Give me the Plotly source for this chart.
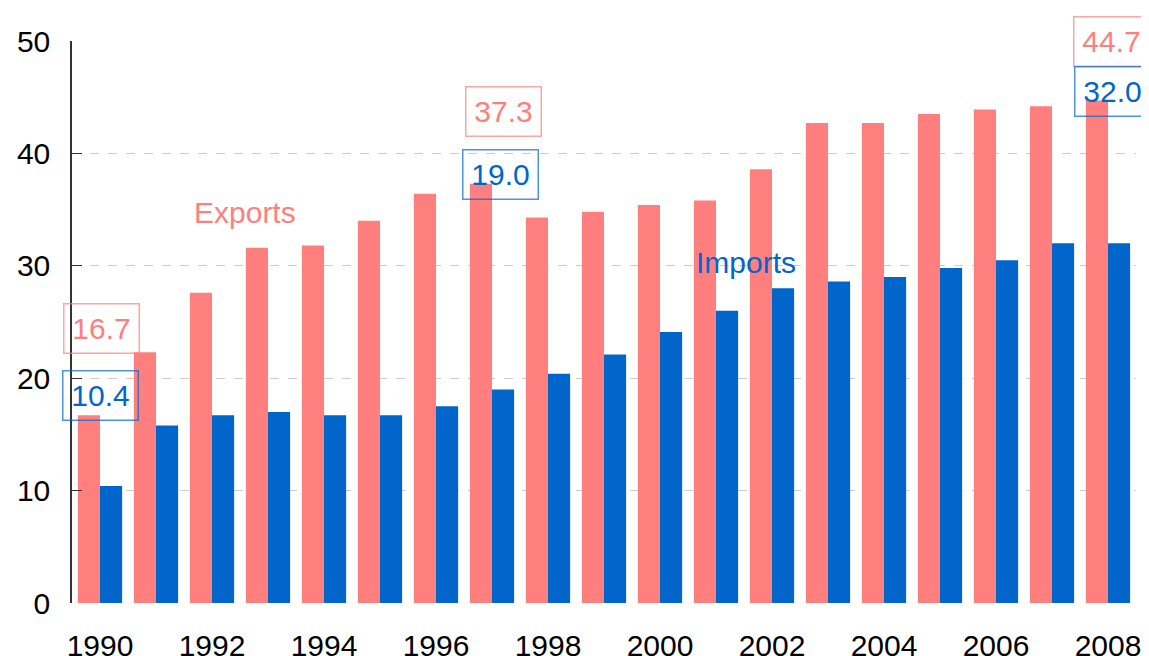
import plotly.graph_objects as go

years = list(range(1990, 2009))
exports = [16.7, 22.3, 27.6, 31.6, 31.8, 34.0, 36.4, 37.3, 34.3, 34.8, 35.4, 35.8,
           38.6, 42.7, 42.7, 43.5, 43.9, 44.2, 44.7]
imports = [10.4, 15.8, 16.7, 17.0, 16.7, 16.7, 17.5, 19.0, 20.4, 22.1, 24.1, 26.0,
           28.0, 28.6, 29.0, 29.8, 30.5, 32.0, 32.0]
tick_years = [1990, 1992, 1994, 1996, 1998, 2000, 2002, 2004, 2006, 2008]
y_ticks = [0, 10, 20, 30, 40, 50]

PINK = "#FF7F7F"
BLUE = "#0066CC"
FONT = "Liberation Sans, Arial, sans-serif"

fig = go.Figure()
fig.add_trace(go.Bar(x=years, y=exports, name="Exports", marker_color=PINK,
                     marker_line_width=0))
fig.add_trace(go.Bar(x=years, y=imports, name="Imports", marker_color=BLUE,
                     marker_line_width=0))

annotations = []
# boxed value labels: (year index, series, x offset, y position)
boxed = [
    (0, "e", 0.03, 24.4),
    (0, "i", 0.0, 18.5),
    (7, "e", 0.21, 43.7),
    (7, "i", 0.16, 38.1),
    (18, "e", 0.07, 50.0),
    (18, "i", 0.08, 45.5),
]
for idx, s, dx, ypos in boxed:
    val = exports[idx] if s == "e" else imports[idx]
    col = PINK if s == "e" else BLUE
    border = "rgba(255,127,127,0.7)" if s == "e" else "rgba(0,102,204,0.7)"
    annotations.append(dict(
        x=years[idx] + dx, y=ypos, xref="x", yref="y",
        text=f"{val:.1f}", showarrow=False,
        font=dict(family=FONT, size=30, color=col),
        bordercolor=border, borderwidth=1.5, borderpad=6,
        width=62, height=36, bgcolor="rgba(0,0,0,0)",
    ))

annotations.append(dict(x=1992.59, y=34.7, xref="x", yref="y", text="Exports",
                        showarrow=False, font=dict(family=FONT, size=30, color=PINK)))
annotations.append(dict(x=2001.54, y=30.25, xref="x", yref="y", text="Imports",
                        showarrow=False, font=dict(family=FONT, size=30, color=BLUE)))

fig.update_layout(
    template="none",
    width=1141, height=648,
    margin=dict(l=64, r=13, t=33, b=53, autoexpand=False),
    paper_bgcolor="white", plot_bgcolor="white",
    barmode="group", bargap=0.21, bargroupgap=0,
    showlegend=False,
    font=dict(family=FONT, size=30, color="black"),
    annotations=annotations,
    xaxis=dict(
        range=[1989.5, 2008.5], tickvals=tick_years,
        ticktext=[str(y) for y in tick_years], automargin=False,
        showgrid=False, zeroline=False, showline=False, ticks="",
        tickfont=dict(size=30), ticklabelstandoff=22,
    ),
    yaxis=dict(
        range=[0, 50], tickvals=y_ticks, automargin=False,
        showgrid=True, gridcolor="#CCCCCC", griddash="dash", gridwidth=1,
        zeroline=False, showline=True, linecolor="#333333", linewidth=1.5,
        ticks="inside", ticklen=10, tickcolor="#333333",
        tickfont=dict(size=30), ticklabelstandoff=14,
    ),
)

fig.write_html("out.html")
